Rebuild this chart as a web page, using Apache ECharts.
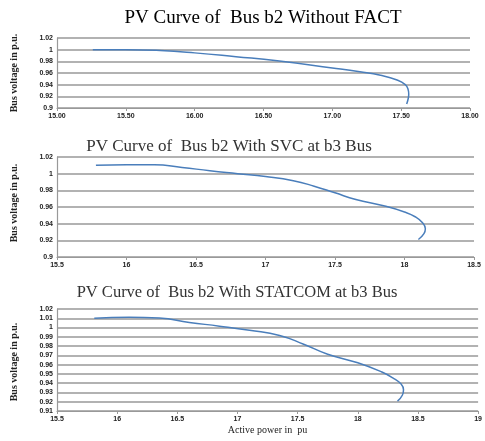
<!DOCTYPE html>
<html>
<head>
<meta charset="utf-8">
<script src="https://cdn.jsdelivr.net/npm/echarts@6/dist/echarts.min.js"></script>
<style>
  html, body { margin: 0; padding: 0; background: #fff; }
  #chart { width: 485px; height: 441px; }
</style>
</head>
<body>
<div id="chart"></div>
<script>
// 数据: 三条PV曲线 (有功功率 P, 电压 V)
const titles = [
    'PV Curve of  Bus b2 Without FACT',
    'PV Curve of  Bus b2 With SVC at b3 Bus',
    'PV Curve of  Bus b2 With STATCOM at b3 Bus'
];
const yAxisName = 'Bus voltage in p.u.';
const xAxisName = 'Active power in  pu';

const p1 = [15.26, 15.5, 15.75, 16.0, 16.3, 16.6, 17.0, 17.2, 17.35, 17.47, 17.53, 17.55, 17.555, 17.55, 17.54];
const v1 = [1.0, 1.0, 0.9985, 0.9945, 0.988, 0.981, 0.9686, 0.962, 0.956, 0.948, 0.940, 0.932, 0.924, 0.915, 0.907];

const p2 = [15.78, 16.0, 16.2, 16.4, 16.6, 16.8, 17.0, 17.2, 17.35, 17.5, 17.65, 17.85, 18.0, 18.08, 18.13, 18.15, 18.14, 18.1];
const v2 = [1.01, 1.0108, 1.0108, 1.0075, 1.0035, 1.0, 0.9965, 0.9915, 0.985, 0.977, 0.969, 0.9615, 0.954, 0.948, 0.941, 0.934, 0.928, 0.921];

const p3 = [15.81, 16.1, 16.35, 16.6, 16.85, 17.1, 17.35, 17.55, 17.75, 18.0, 18.2, 18.3, 18.36, 18.38, 18.37, 18.33];
const v3 = [1.01, 1.0112, 1.0102, 1.0055, 1.0015, 0.997, 0.9915, 0.982, 0.9712, 0.962, 0.952, 0.945, 0.939, 0.933, 0.927, 0.9207];

// 坐标轴范围
const xRanges = [[15, 18, 0.5], [15.5, 18.5, 0.5], [15.5, 19, 0.5]];
const yRanges = [[0.9, 1.02, 0.02], [0.9, 1.02, 0.02], [0.91, 1.02, 0.01]];
const xDecimals = [2, -1, -1];

function pairs(xs, ys) {
    return xs.map((x, i) => [x, ys[i]]);
}

const chart = echarts.init(document.getElementById('chart'));

const grids = [
    { left: 57, right: 15, top: 38, height: 70 },
    { left: 57, right: 11, top: 157, height: 100 },
    { left: 57, right: 3, top: 309, height: 102 }
];
const titlePos = [[263, 18, 19, '#000'], [229, 147, 17, '#333'], [237, 293, 16.5, '#333']];
const yNamePos = [73, 203, 362];

const labelStyle = {
    fontFamily: 'Liberation Sans',
    fontSize: 7,
    fontWeight: 'bold',
    color: '#222'
};

const option = {
    animation: false,
    grid: grids,
    xAxis: xRanges.map((r, i) => ({
        type: 'value',
        gridIndex: i,
        min: r[0],
        max: r[1],
        interval: r[2],
        splitLine: { show: false },
        axisLine: { lineStyle: { color: '#999', width: 1.2 } },
        axisTick: { show: true, length: 3, lineStyle: { color: '#999' } },
        axisLabel: Object.assign({
            margin: 5,
            formatter: v => xDecimals[i] > 0 ? v.toFixed(xDecimals[i]) : String(+v.toFixed(2))
        }, labelStyle),
        name: i === 2 ? xAxisName : '',
        nameLocation: 'middle',
        nameGap: 14,
        nameTextStyle: { fontFamily: 'Liberation Serif', fontSize: 10, color: '#222' }
    })),
    yAxis: yRanges.map((r, i) => ({
        type: 'value',
        gridIndex: i,
        min: r[0],
        max: r[1],
        interval: r[2],
        splitLine: { show: true, lineStyle: { color: '#999', width: 1.5 } },
        axisLine: { show: true, lineStyle: { color: '#999', width: 1.2 } },
        axisTick: { show: false },
        axisLabel: Object.assign({
            margin: 4,
            formatter: v => String(+v.toFixed(3))
        }, labelStyle)
    })),
    graphic: titles.map((t, i) => ({
        type: 'text',
        x: titlePos[i][0],
        y: titlePos[i][1],
        style: {
            text: t,
            align: 'center',
            verticalAlign: 'middle',
            fontFamily: 'Liberation Serif',
            fontSize: titlePos[i][2],
            fill: titlePos[i][3]
        }
    })).concat(yNamePos.map(y => ({
        type: 'text',
        x: 14,
        y: y,
        rotation: Math.PI / 2,
        style: {
            text: yAxisName,
            align: 'center',
            verticalAlign: 'middle',
            fontFamily: 'Liberation Serif',
            fontSize: 10,
            fontWeight: 'bold',
            fill: '#222'
        }
    }))),
    series: [[p1, v1], [p2, v2], [p3, v3]].map((d, i) => ({
        type: 'line',
        xAxisIndex: i,
        yAxisIndex: i,
        data: pairs(d[0], d[1]),
        smooth: 0.5,
        showSymbol: false,
        lineStyle: { color: '#4a7ebb', width: 1.5 }
    }))
};

chart.setOption(option);
</script>
</body>
</html>
